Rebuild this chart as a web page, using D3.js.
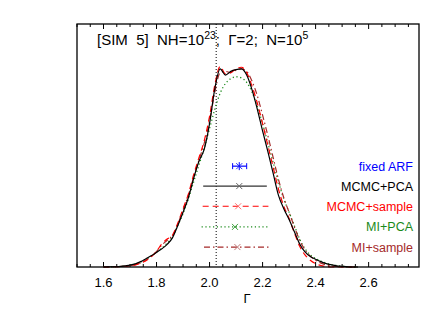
<!DOCTYPE html>
<html>
<head>
    <script src="https://cdn.jsdelivr.net/npm/d3@7"></script>
    <style>
        body { margin: 0; background: #fff; }
        svg { font-family: "Liberation Sans", Arial, sans-serif; }
        .title { white-space: pre; }
    </style>
</head>
<body>
    <svg width="443" height="317"></svg>
    <script>
        // gamma grid for the posterior curves
        const gammaGrid = d3.range(49).map(i => +(1.60 + i * 0.02).toFixed(2))
        const mcmcPca = [0, 0.001, 0.001, 0.002, 0.005, 0.008, 0.013, 0.022, 0.034, 0.046, 0.060, 0.075, 0.093, 0.120, 0.170, 0.225, 0.285, 0.365, 0.435, 0.485,
            0.590, 0.735, 0.815, 0.790, 0.805, 0.812, 0.815, 0.790, 0.730, 0.650, 0.560, 0.475, 0.385, 0.295, 0.240, 0.195, 0.145, 0.095, 0.062, 0.043,
            0.032, 0.022, 0.014, 0.009, 0.005, 0.003, 0.001, 0, 0]
        const mcmcSample = [0, 0, 0.001, 0.001, 0.003, 0.005, 0.009, 0.016, 0.026, 0.042, 0.065, 0.095, 0.115, 0.130, 0.180, 0.240, 0.300, 0.380, 0.450, 0.520,
            0.620, 0.750, 0.825, 0.795, 0.800, 0.815, 0.822, 0.800, 0.745, 0.675, 0.590, 0.500, 0.410, 0.320, 0.250, 0.200, 0.140, 0.085, 0.050, 0.028,
            0.014, 0.006, 0.002, 0, 0, 0, 0, 0, 0]
        const miPca = [0, 0.001, 0.001, 0.002, 0.004, 0.007, 0.012, 0.020, 0.031, 0.045, 0.060, 0.078, 0.098, 0.125, 0.170, 0.220, 0.280, 0.350, 0.420, 0.490,
            0.570, 0.650, 0.715, 0.755, 0.775, 0.783, 0.778, 0.760, 0.720, 0.660, 0.590, 0.510, 0.430, 0.350, 0.280, 0.225, 0.170, 0.115, 0.075, 0.050,
            0.035, 0.024, 0.016, 0.010, 0.006, 0.003, 0.001, 0, 0]
        const miSample = [0, 0, 0.001, 0.002, 0.003, 0.006, 0.010, 0.017, 0.028, 0.044, 0.064, 0.090, 0.110, 0.130, 0.175, 0.235, 0.295, 0.370, 0.440, 0.510,
            0.600, 0.720, 0.800, 0.805, 0.800, 0.810, 0.815, 0.805, 0.765, 0.705, 0.625, 0.540, 0.450, 0.360, 0.285, 0.225, 0.165, 0.110, 0.070, 0.045,
            0.028, 0.016, 0.008, 0.004, 0.002, 0, 0, 0, 0]

        // error bars: label, centre, low, high
        const barLabels = ['fixed ARF', 'MCMC+PCA', 'MCMC+sample', 'MI+PCA', 'MI+sample']
        const barCenters = [2.112, 2.112, 2.108, 2.096, 2.105]
        const barLows = [2.087, 1.976, 1.974, 1.970, 1.979]
        const barHighs = [2.140, 2.216, 2.222, 2.225, 2.225]
        const barLevels = [0.415, 0.333, 0.250, 0.165, 0.082]
        const trueGamma = 2.025
        const xTicks = [1.6, 1.8, 2.0, 2.2, 2.4, 2.6]

        const styles = [
            { color: '#0000ff', mark: '#2030ff', dash: null, width: 1.2 },
            { color: '#000000', mark: '#666666', dash: null, width: 1.2 },
            { color: '#ff0000', mark: '#ff7070', dash: '6,4', width: 1.2 },
            { color: '#1a8a1a', mark: '#40a040', dash: '1.2,2.6', width: 1.3 },
            { color: '#a52a2a', mark: '#c07878', dash: '6,3,1.5,3', width: 1.2 }
        ]

        const svg = d3.select('svg')
        const plotLeft = 77, plotRight = 419, plotTop = 24, plotBottom = 267
        const x = d3.scaleLinear().domain([1.5, 2.79]).range([plotLeft, plotRight])
        const y = d3.scaleLinear().domain([0, 1]).range([plotBottom, plotTop])

        // axes
        const minor = d3.range(1.5, 2.79, 0.05).map(v => +v.toFixed(2))
        const isMajor = d => xTicks.some(t => Math.abs(t - d) < 1e-6)
        const g = svg.append('g')
        g.selectAll('.tick-b').data(minor).join('line')
            .attr('class', 'tick-b')
            .attr('x1', d => x(d)).attr('x2', d => x(d))
            .attr('y1', plotBottom).attr('y2', d => plotBottom - (isMajor(d) ? 5 : 3))
            .attr('stroke', '#000').attr('stroke-width', 1)
        g.selectAll('.tick-t').data(minor).join('line')
            .attr('class', 'tick-t')
            .attr('x1', d => x(d)).attr('x2', d => x(d))
            .attr('y1', plotTop).attr('y2', d => plotTop + (isMajor(d) ? 5 : 3))
            .attr('stroke', '#000').attr('stroke-width', 1)
        g.selectAll('.tick-label').data(xTicks).join('text')
            .attr('class', 'tick-label')
            .attr('x', d => x(d)).attr('y', 287)
            .attr('text-anchor', 'middle')
            .attr('font-size', 13)
            .text(d => d.toFixed(1))
        g.append('text')
            .attr('x', 247).attr('y', 303)
            .attr('text-anchor', 'middle')
            .attr('font-size', 13)
            .text('Γ')

        // true value
        svg.append('line')
            .attr('x1', x(trueGamma)).attr('x2', x(trueGamma))
            .attr('y1', plotTop).attr('y2', plotBottom)
            .attr('stroke', '#000').attr('stroke-width', 1)
            .attr('stroke-dasharray', '1,2')

        // posterior curves
        const line = d3.line().x((d, i) => x(gammaGrid[i])).y(d => y(d)).curve(d3.curveMonotoneX)
        const curves = [
            { values: miPca, style: styles[3] },
            { values: miSample, style: styles[4] },
            { values: mcmcSample, style: styles[2] },
            { values: mcmcPca, style: styles[1] }
        ]
        svg.selectAll('.curve').data(curves).join('path')
            .attr('class', 'curve')
            .attr('d', d => line(d.values))
            .attr('fill', 'none')
            .attr('stroke', d => d.style.color)
            .attr('stroke-width', d => d.style.width)
            .attr('stroke-dasharray', d => d.style.dash)

        // error bars
        const bars = barLabels.map((label, i) => ({
            label, c: barCenters[i], lo: barLows[i], hi: barHighs[i], lev: barLevels[i], style: styles[i]
        }))
        const bg = svg.selectAll('.bar').data(bars).join('g').attr('class', 'bar')
        bg.append('line')
            .attr('x1', d => x(d.lo)).attr('x2', d => x(d.hi))
            .attr('y1', d => y(d.lev)).attr('y2', d => y(d.lev))
            .attr('stroke', (d, i) => i === 1 ? '#333' : d.style.color)
            .attr('stroke-width', d => d.style.width)
            .attr('stroke-dasharray', d => d.style.dash)
        bg.append('path')
            .attr('d', d => {
                const cx = x(d.c), cy = y(d.lev), s = 3
                return `M${cx - s},${cy - s}L${cx + s},${cy + s}M${cx - s},${cy + s}L${cx + s},${cy - s}`
            })
            .attr('stroke', d => d.style.mark)
            .attr('stroke-width', 1)
        bg.filter((d, i) => i === 0).append('path')
            .attr('d', d => {
                const cy = y(d.lev)
                return `M${x(d.lo)},${cy - 3}V${cy + 3}M${x(d.hi)},${cy - 3}V${cy + 3}M${x(d.c)},${cy - 4}V${cy + 4}`
            })
            .attr('stroke', d => d.style.color)
            .attr('stroke-width', 1)
        bg.append('text')
            .attr('x', 413)
            .attr('y', d => y(d.lev) + 4.5)
            .attr('text-anchor', 'end')
            .attr('font-size', 12.5)
            .attr('fill', d => d.style.color)
            .text(d => d.label)

        // title
        const title = svg.append('text').attr('class', 'title').attr('x', 97).attr('y', 45).attr('font-size', 15)
        title.append('tspan').text('[SIM  5]  NH=10')
        title.append('tspan').attr('dy', -6).attr('font-size', 10.5).text('23')
        title.append('tspan').attr('dy', 6).text(';  Γ=2;  N=10')
        title.append('tspan').attr('dy', -6).attr('font-size', 10.5).text('5')

        // frame
        svg.append('rect')
            .attr('x', plotLeft).attr('y', plotTop)
            .attr('width', plotRight - plotLeft).attr('height', plotBottom - plotTop)
            .attr('fill', 'none').attr('stroke', '#000').attr('stroke-width', 1.3)
    </script>
</body>
</html>
